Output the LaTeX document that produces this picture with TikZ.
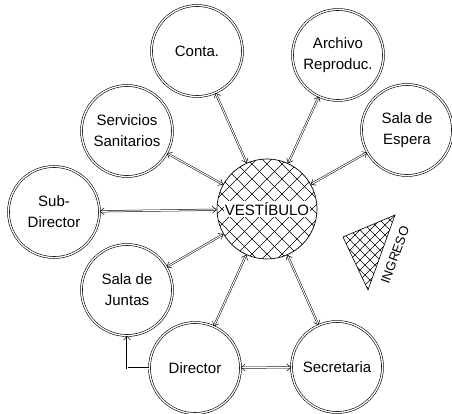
\documentclass[tikz,border=0pt]{standalone}
\usepackage{fontspec}
\setmainfont{Liberation Sans}
\usetikzlibrary{arrows.meta}

\begin{document}
\begin{tikzpicture}[
  x=1pt,y=-1pt,
  room/.style={draw,circle,double,double distance=1.3pt,line width=0.6pt,minimum size=91pt,inner sep=0pt,align=center,font=\fontsize{15}{21}\selectfont},
  hatch/.style={line width=0.6pt},
  link/.style={double,double distance=1pt,line width=0.5pt,{Straight Barb[length=4pt,width=7pt]}-{Straight Barb[length=4pt,width=7pt]}}
]
\useasboundingbox (0,0) rectangle (452,414);
\node[room] (conta) at (197,51) {Conta.};
\node[room] (archivo) at (338,55) {Archivo\\Reproduc.};
\node[room] (espera) at (407,130) {Sala de\\Espera};
\node[room] (sanit) at (127,131) {Servicios\\Sanitarios};
\node[room] (subdir) at (54,212) {Sub-\\Director};
\node[room] (juntas) at (127,290) {Sala de\\Juntas};
\node[room] (director) at (195,368) {Director};
\node[room] (secret) at (337,367) {Secretaria};

\node[draw,circle,line width=0.7pt,minimum size=100pt,inner sep=0pt] (vest) at (267,209) {};
\begin{scope}
  \clip (vest.center) circle (50pt);
  \begin{scope}[shift={(vest.center)}]
    \foreach \i in {-135,-120,...,135} {
      \draw[hatch] (\i-60,-60) -- (\i+60,60);
      \draw[hatch] (\i+60,-60) -- (\i-60,60);
    }
  \end{scope}
\end{scope}
\node[fill=white,inner sep=1pt,font=\fontsize{15}{18}\selectfont] at (vest) {VESTÍBULO};

\path (vest) edge[link] (conta);
\path (vest) edge[link] (archivo);
\path (vest) edge[link] (espera);
\path (vest) edge[link] (sanit);
\path (vest) edge[link] (subdir);
\path (vest) edge[link] (juntas);
\path (vest) edge[link] (director);
\path (vest) edge[link] (secret);
\path (director) edge[link] (secret);
\draw[double,double distance=1pt,line width=0.5pt,-{Straight Barb[length=4pt,width=7pt]}] (director.west) -| (juntas.south);

\draw[line width=0.6pt] (343,237) -- (395,215) -- (368,290) -- cycle;
\begin{scope}
  \clip (343,237) -- (395,215) -- (368,290) -- cycle;
  \foreach \i in {-100,-90,...,100} {
    \draw[hatch] (320+\i,190) -- ++(110,110);
    \draw[hatch] (420+\i,190) -- ++(-110,110);
  }
\end{scope}
\node[rotate=70,inner sep=0pt,font=\fontsize{13}{15}\selectfont] (ingreso) at (395,255) {INGRESO};
\end{tikzpicture}
\end{document}
